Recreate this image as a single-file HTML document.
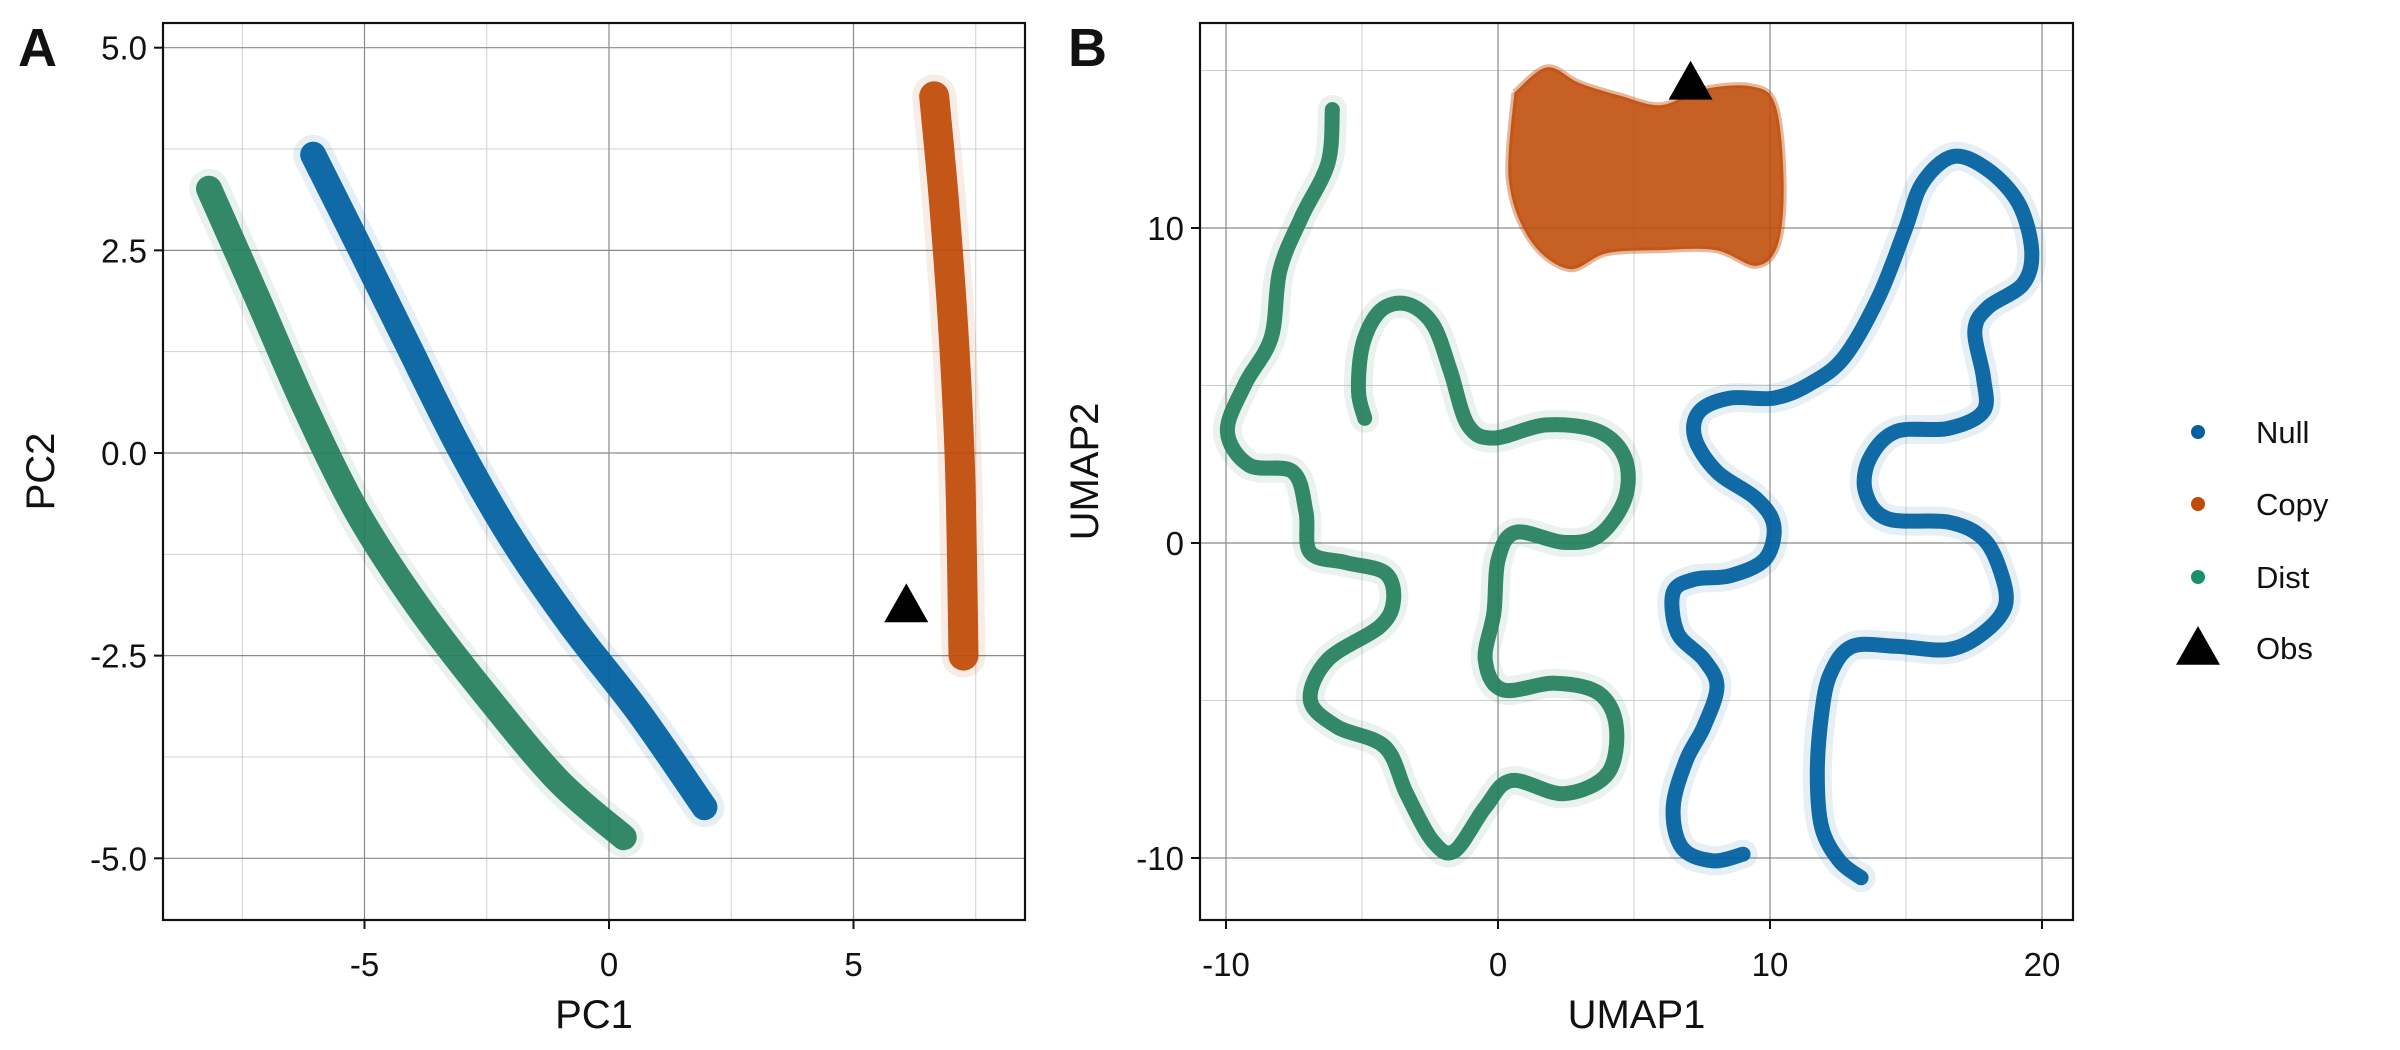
<!DOCTYPE html>
<html><head><meta charset="utf-8"><style>
html,body{margin:0;padding:0;background:#fff}
svg{display:block}
text{font-family:"Liberation Sans",Arial,sans-serif;fill:#111}
</style></head><body>
<svg id="fig" width="2400" height="1050" viewBox="0 0 2400 1050" xmlns="http://www.w3.org/2000/svg">
<g id="pa"></g>
<g id="pb"></g>
<g id="legend"></g>
</svg>
<script>
// ---------- Panel A data (PCA) ----------
const aNullX=[-6.05,-5.02,-4.2,-3.1,-2.0,-0.77,0.61,1.95];
const aNullY=[3.68,2.44,1.44,0.11,-1.05,-2.13,-3.2,-4.37];
const aDistX=[-8.18,-7.21,-6.25,-5.16,-3.92,-2.55,-1.04,0.3];
const aDistY=[3.26,1.94,0.61,-0.72,-1.88,-2.96,-4.04,-4.74];
const aCopyX=[6.65,6.85,7.05,7.18,7.25];
const aCopyY=[4.4,3.1,1.44,-0.22,-2.5];
const aObs=[6.08,-1.88];
const aXTicks=[-5,0,5];
const aYTicks=[-5,-2.5,0,2.5,5];
const aYTickLabels=["-5.0","-2.5","0.0","2.5","5.0"];
const aXMinor=[-7.5,-2.5,2.5,7.5];
const aYMinor=[-3.75,-1.25,1.25,3.75];
// ---------- Panel B data (UMAP) ----------
const bDistX=[-6.09,-6.25,-7.22,-8.02,-8.34,-9.31,-9.95,-9.15,-7.54,-7.06,-6.9,-5.61,-4.16,-3.84,-4.33,-6.25,-6.9,-5.93,-4.16,-3.36,-2.4,-1.59,-0.47,0.5,2.42,4.03,4.35,3.71,2.1,0.17,-0.47,-0.15,0.01,0.66,2.42,3.71,4.67,4.67,3.71,1.78,-0.15,-1.11,-1.75,-2.4,-3.36,-4.33,-4.97,-5.13,-4.9];
const bDistY=[13.76,12.06,10.35,8.65,6.52,5.03,3.54,2.47,2.26,0.98,-0.3,-0.62,-0.94,-1.79,-2.64,-3.7,-4.98,-5.83,-6.47,-7.96,-9.46,-9.77,-8.39,-7.54,-7.96,-7.32,-5.83,-4.77,-4.45,-4.66,-3.7,-2.21,-0.51,0.34,0.02,0.24,1.41,2.69,3.54,3.75,3.33,3.75,5.46,6.95,7.59,7.37,6.31,4.82,3.96];
const bNullX=[9.01,7.89,6.76,6.44,6.92,7.57,8.05,7.57,6.6,6.44,7.24,8.53,9.82,10.14,9.49,8.05,7.24,7.41,8.53,10.14,11.42,12.71,13.99,14.96,15.6,16.73,18.01,19.14,19.62,19.3,18.01,17.53,17.85,17.85,16.57,14.64,13.67,13.51,14.32,16.57,17.85,18.49,18.65,17.85,16.57,14.64,13.03,12.23,11.9,11.74,11.9,12.55,13.35];
const bNullY=[-9.88,-10.09,-9.67,-8.39,-6.9,-5.83,-4.56,-3.7,-2.85,-1.57,-1.15,-1.04,-0.51,0.56,1.41,2.26,3.33,4.18,4.6,4.6,5.03,5.88,7.8,9.93,11.42,12.27,11.85,10.78,9.29,8.22,7.48,6.73,5.24,4.18,3.64,3.54,2.69,1.62,0.77,0.66,0.13,-0.94,-2.0,-2.85,-3.38,-3.28,-3.28,-4.13,-5.41,-7.32,-9.03,-10.09,-10.63];
const bCopyX=[0.6,1.8,3,4.5,6,7.5,9.3,10.2,10.5,10.3,9.5,8,6,4,2.6,1.2,0.4];
const bCopyY=[14.3,15.1,14.6,14.2,13.9,14.4,14.5,13.9,11.5,9.5,8.8,9.3,9.3,9.2,8.7,9.6,11.5];
const bObs=[7.08,14.61];
const bXTicks=[-10,0,10,20];
const bYTicks=[-10,0,10];
const bXMinor=[-5,5,15];
const bYMinor=[-5,5,15];
const legendLabels=["Null","Copy","Dist","Obs"];

const C={Null:"#00609f",Copy:"#bf4a06",Dist:"#23805d",DistLeg:"#1a9068"};
const NS="http://www.w3.org/2000/svg";
function mk(parent,tag,attrs,txt){const e=document.createElementNS(NS,tag);for(const k in attrs)e.setAttribute(k,attrs[k]);if(txt!==undefined)e.textContent=txt;parent.appendChild(e);return e;}
function lin(d0,d1,r0,r1){return v=>r0+(v-d0)/(d1-d0)*(r1-r0);}
function smooth(xs,ys,sx,sy){const P=xs.map((x,i)=>[sx(x),sy(ys[i])]);let d="M"+P[0][0]+","+P[0][1];for(let i=0;i<P.length-1;i++){const p0=P[Math.max(0,i-1)],p1=P[i],p2=P[i+1],p3=P[Math.min(P.length-1,i+2)];const c1=[p1[0]+(p2[0]-p0[0])/6,p1[1]+(p2[1]-p0[1])/6],c2=[p2[0]-(p3[0]-p1[0])/6,p2[1]-(p3[1]-p1[1])/6];d+="C"+c1[0].toFixed(1)+","+c1[1].toFixed(1)+" "+c2[0].toFixed(1)+","+c2[1].toFixed(1)+" "+p2[0].toFixed(1)+","+p2[1].toFixed(1);}return d;}

function frame(g,box,sx,sy,xt,xl,yt,yl,xm,ym){
  for(const v of xm){const l=mk(g,"line",{x1:sx(v),x2:sx(v),y1:box.t,y2:box.b,stroke:"#d0d0d0","stroke-width":1});
    
    }
  for(const v of ym){const l=mk(g,"line",{x1:box.l,x2:box.r,y1:sy(v),y2:sy(v),stroke:"#d0d0d0","stroke-width":1});
    
    }
  xt.forEach((v,i)=>{const l=mk(g,"line",{x1:sx(v),x2:sx(v),y1:box.t,y2:box.b,stroke:"#8a8a8a","stroke-width":1.2});
    
    
    const t=mk(g,"line",{x1:sx(v),x2:sx(v),y1:box.b,y2:box.b+9,stroke:"#111","stroke-width":2});
    
    
    const tx=mk(g,"text",{x:sx(v),y:box.b+56,"font-size":33,"text-anchor":"middle"},xl[i]);
    
    });
  yt.forEach((v,i)=>{const l=mk(g,"line",{x1:box.l,x2:box.r,y1:sy(v),y2:sy(v),stroke:"#8a8a8a","stroke-width":1.2});
    
    
    const t=mk(g,"line",{x1:box.l-9,x2:box.l,y1:sy(v),y2:sy(v),stroke:"#111","stroke-width":2});
    
    
    const tx=mk(g,"text",{x:box.l-16,y:sy(v)+12,"font-size":33,"text-anchor":"end"},yl[i]);
    
    });
}
function border(g,box){const r=mk(g,"rect",{x:box.l,y:box.t,width:box.r-box.l,height:box.b-box.t,fill:"none",stroke:"#111","stroke-width":2.2});
  
  }
function band(g,d,color,w,name){
  const h=mk(g,"path",{d:d,fill:"none",stroke:color,"stroke-opacity":0.1,"stroke-width":w+14,"stroke-linecap":"round","stroke-linejoin":"round"});
  
  
  const p=mk(g,"path",{d:d,fill:"none",stroke:color,"stroke-opacity":0.93,"stroke-width":w,"stroke-linecap":"round","stroke-linejoin":"round"});
  
  
}
function tri(g,x,y,s,name){const p=mk(g,"path",{d:`M${x},${y-s*0.55}L${x+s*0.55},${y+s*0.42}L${x-s*0.55},${y+s*0.42}Z`,fill:"#000"});
  
  }

// Panel A
(function(){
  const g=document.getElementById('pa');
  const box={l:163,r:1025,t:23,b:920};
  const sx=lin(0,5,609,853.5), sy=lin(0,5,453,47.7);
  frame(g,box,sx,sy,aXTicks,aXTicks.map(String),aYTicks,aYTickLabels,aXMinor,aYMinor);
  band(g,smooth(aDistX,aDistY,sx,sy),C.Dist,26,'dist-points-a');
  band(g,smooth(aNullX,aNullY,sx,sy),C.Null,26,'null-points-a');
  band(g,smooth(aCopyX,aCopyY,sx,sy),C.Copy,30,'copy-points-a');
  tri(g,sx(aObs[0]),sy(aObs[1]),40,'obs-marker-a');
  border(g,box);
  const xt=mk(g,"text",{x:(box.l+box.r)/2,y:1028,"font-size":40,"text-anchor":"middle"},"PC1");
  
  
  const yt=mk(g,"text",{x:0,y:0,"font-size":40,"text-anchor":"middle",transform:`translate(54,${(box.t+box.b)/2}) rotate(-90)`},"PC2");
  
  
  const lab=mk(g,"text",{x:18,y:66,"font-size":54,"font-weight":"bold"},"A");
  
  
})();

// Panel B
(function(){
  const g=document.getElementById('pb');
  const box={l:1200,r:2073,t:23,b:920};
  const sx=lin(0,10,1498,1770), sy=lin(0,10,543,228);
  frame(g,box,sx,sy,bXTicks,bXTicks.map(String),bYTicks,bYTicks.map(String),bXMinor,bYMinor);
  const cp=mk(g,"path",{d:smooth(bCopyX.concat([bCopyX[0]]),bCopyY.concat([bCopyY[0]]),sx,sy)+"Z",fill:C.Copy,"fill-opacity":0.88,stroke:C.Copy,"stroke-opacity":0.4,"stroke-width":6});
  
  
  band(g,smooth(bDistX,bDistY,sx,sy),C.Dist,15,'dist-points-b');
  band(g,smooth(bNullX,bNullY,sx,sy),C.Null,15,'null-points-b');
  tri(g,sx(bObs[0]),sy(bObs[1]),40,'obs-marker-b');
  border(g,box);
  const xt=mk(g,"text",{x:(box.l+box.r)/2,y:1028,"font-size":40,"text-anchor":"middle"},"UMAP1");
  
  
  const yt=mk(g,"text",{x:0,y:0,"font-size":40,"text-anchor":"middle",transform:`translate(1098,${(box.t+box.b)/2}) rotate(-90)`},"UMAP2");
  
  
  const lab=mk(g,"text",{x:1068,y:66,"font-size":54,"font-weight":"bold"},"B");
  
  
})();

// Legend
(function(){
  const g=document.getElementById('legend');
  const cols=[C.Null,C.Copy,C.DistLeg,null];
  const ys=[432,504,577,648];
  legendLabels.forEach((lbl,i)=>{
    const e=mk(g,"g",{});
    
    
    if(cols[i]){const c=mk(e,"circle",{cx:2198,cy:ys[i],r:7,fill:cols[i]});
      
      }
    else tri(e,2198,ys[i],40,'legend-key-obs');
    const t=mk(e,"text",{x:2256,y:ys[i]+11,"font-size":31},lbl);
    
    
  });
})();
</script>
</body></html>
